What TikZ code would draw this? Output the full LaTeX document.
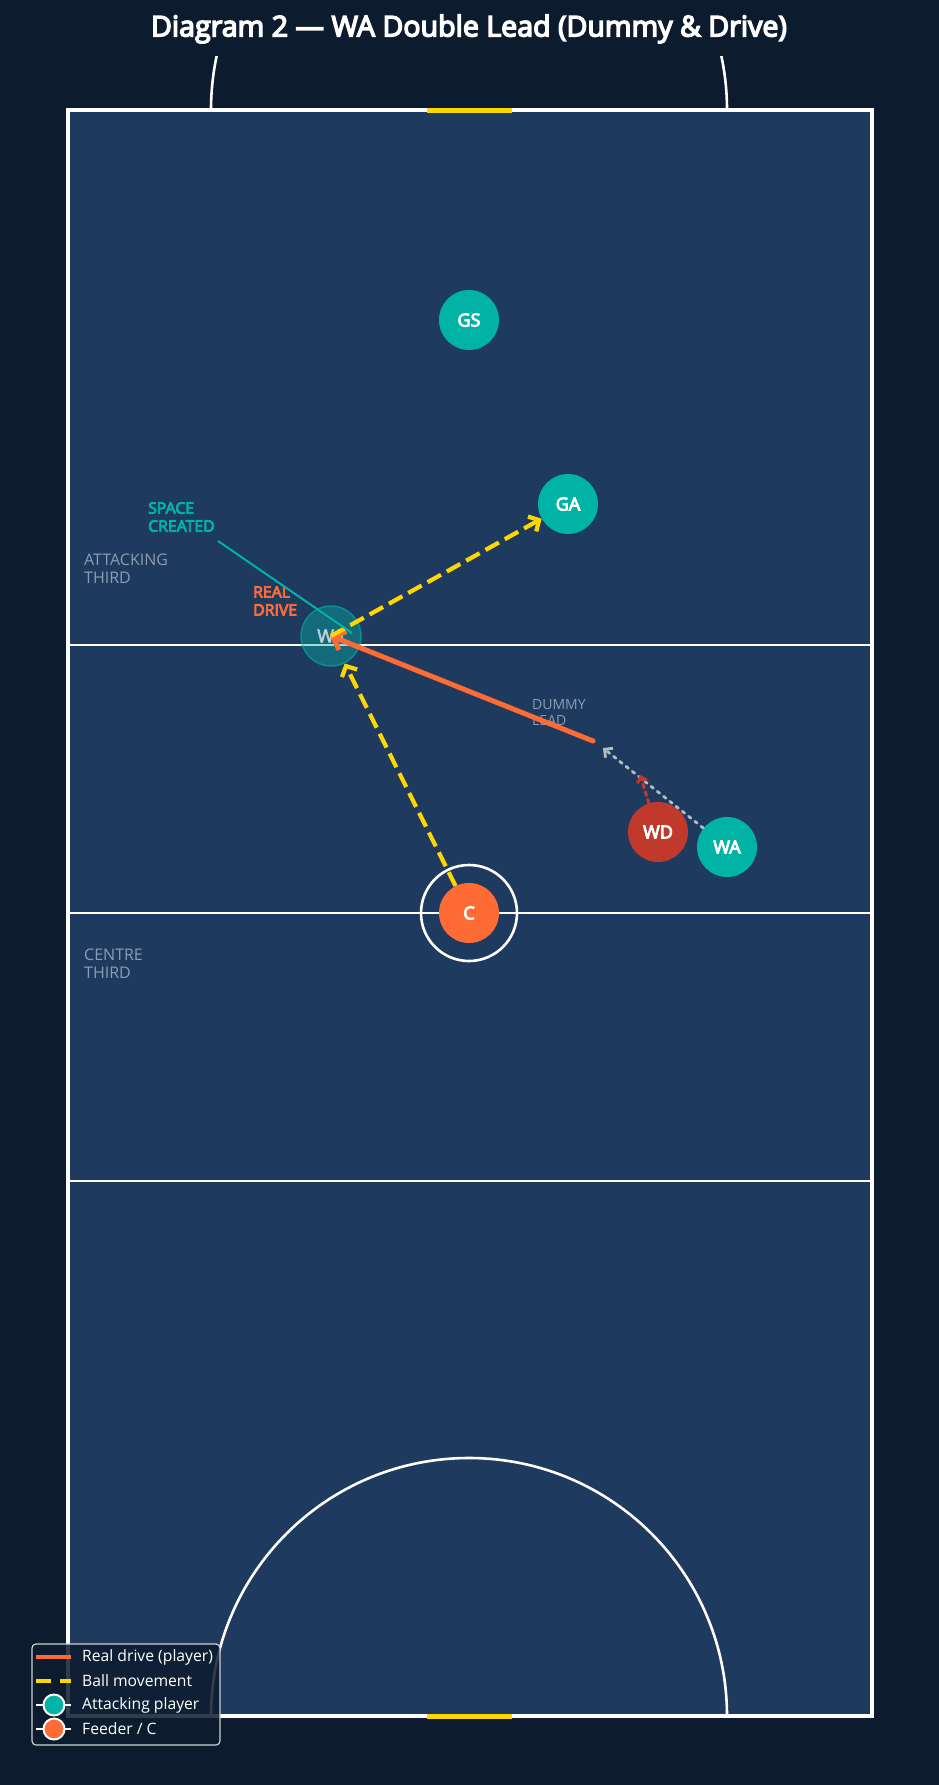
\documentclass[tikz,border=0pt]{standalone}
\usepackage{fontspec}
\setmainfont{Open Sans}[AutoFakeBold=5]
\usepackage{xcolor}
\usepackage{tikz}
\usetikzlibrary{arrows.meta}

\definecolor{bgdark}{HTML}{0D1B2E}
\definecolor{courtblue}{HTML}{1F3A5F}
\definecolor{attteal}{HTML}{00B3A4}
\definecolor{feedorange}{HTML}{FF6B35}
\definecolor{defred}{HTML}{C0392B}
\definecolor{ballyellow}{HTML}{FFD700}
\definecolor{zonegrey}{HTML}{8A9DB3}
\definecolor{dummygrey}{HTML}{B0BEC5}

\begin{document}
\begin{tikzpicture}[x=1pt,y=-1pt,
  player/.style={circle,minimum size=60pt,inner sep=0pt,text=white,font=\fontsize{18}{20}\selectfont\bfseries},
  ghost/.style={player,fill=attteal,fill opacity=0.4,draw=attteal,draw opacity=0.6,line width=1.5pt,text=white,text opacity=0.5},
  zonelbl/.style={anchor=north west,inner sep=0pt,align=left,text=zonegrey,font=\fontsize{16}{17.7}\selectfont},
  notelbl/.style={anchor=north west,inner sep=0pt,align=left,font=\fontsize{15.8}{18}\selectfont\bfseries},
  ballpass/.style={ballyellow,line width=4.2pt,dash pattern=on 15.4pt off 6.7pt,-{Straight Barb[length=8pt,width=17pt]}},
  drive/.style={feedorange,line width=5pt,line cap=round,-{Straight Barb[length=10pt,width=20pt]}},
  dummyrun/.style={dummygrey,line width=2.8pt,line cap=round,dash pattern=on 3pt off 5pt,-{Straight Barb[length=6pt,width=12pt]}},
  wdmove/.style={defred,line width=3pt,line cap=round,dash pattern=on 4pt off 4pt,-{Straight Barb[length=5pt,width=10pt]}},
  legtext/.style={anchor=west,inner sep=0pt,text=white,font=\fontsize{15.7}{18}\selectfont},
  legdot/.style={circle,minimum size=21pt,inner sep=0pt,draw=white,line width=2pt}]

% background and court
\fill[bgdark](0,0) rectangle (939,1785);
\fill[courtblue](68,110) rectangle (872,1716);
\foreach\y in{645,913,1181}{\draw[white,line width=2.8pt](68,\y) -- (872,\y);}
\draw[white,line width=3.2pt](68,110) rectangle (872,1716);
\draw[white,line width=2.6pt](469,913) circle[radius=48];
\begin{scope}
\clip(68,110) rectangle (872,1716);
\draw[white,line width=2.6pt](469,1716) circle[radius=258];
\end{scope}
\begin{scope}
\clip(0,57) rectangle (939,110);
\draw[white,line width=2.6pt](469,110) circle[radius=258];
\end{scope}
\draw[ballyellow,line width=5pt](427,110) -- (512,110);
\draw[ballyellow,line width=5pt](427,1716) -- (512,1716);

\node[font=\fontsize{28.6}{33}\selectfont\bfseries,text=white] (title) at (469,29) {Diagram 2 — WA Double Lead (Dummy \& Drive)};

% zone labels
\node[zonelbl] (attlbl) at (84,554) {ATTACKING\\THIRD};
\node[zonelbl] (cenlbl) at (84,949) {CENTRE\\THIRD};
\node[zonelbl,font=\fontsize{14}{16.3}\selectfont] (dummylbl) at (532,699) {DUMMY\\LEAD};
\node[notelbl,text=attteal] (spacelbl) at (148,502) {SPACE\\CREATED};
\node[notelbl,text=feedorange] (drivelbl) at (253,586) {REAL\\DRIVE};

% players
\node[ghost] (WAg) at (331,636) {WA};
\node[player,fill=attteal] (GS) at (469,320) {GS};
\node[player,fill=attteal] (GA) at (568,504) {GA};
\node[player,fill=defred] (WD) at (658,832) {WD};
\node[player,fill=attteal] (WA) at (727,847) {WA};
\node[player,fill=feedorange] (C) at (469,913) {C};

\coordinate (dummytip) at (603,748);
\coordinate (drivestart) at (593,741);
\coordinate (wdtip) at (640,775);
\coordinate (spacefrom) at (218,541);
\coordinate (spacept) at (352,633);

% movement
\draw[dummyrun](WA) -- (dummytip);
\draw[wdmove](WD) -- (wdtip);
\draw[drive,shorten >=-1pt](drivestart) -- (WAg.center);
\draw[ballpass](C) -- (WAg);
\draw[ballpass](WAg.center) -- (GA);
\draw[attteal,line width=2pt](spacefrom) -- (spacept);

% legend
\draw[rounded corners=4pt,fill=bgdark,fill opacity=0.85,draw=white!80!bgdark,line width=1.2pt](32,1644) rectangle (220,1745);
\draw[feedorange,line width=4pt](36,1657) -- (71,1657);
\draw[ballyellow,line width=4pt,dash pattern=on 15pt off 9pt](36,1681) -- (71,1681);
\draw[white,line width=2pt](36,1705) -- (71,1705);
\node[legdot,fill=attteal] (legatt) at (54,1705) {};
\draw[white,line width=2pt](36,1729) -- (71,1729);
\node[legdot,fill=feedorange] (legfeed) at (54,1729) {};
\foreach\t[count=\i] in{Real drive (player),Ball movement,Attacking player,Feeder / C}{\node[legtext] (leg\i) at (82,1633+24*\i){\t};}
\end{tikzpicture}
\end{document}
